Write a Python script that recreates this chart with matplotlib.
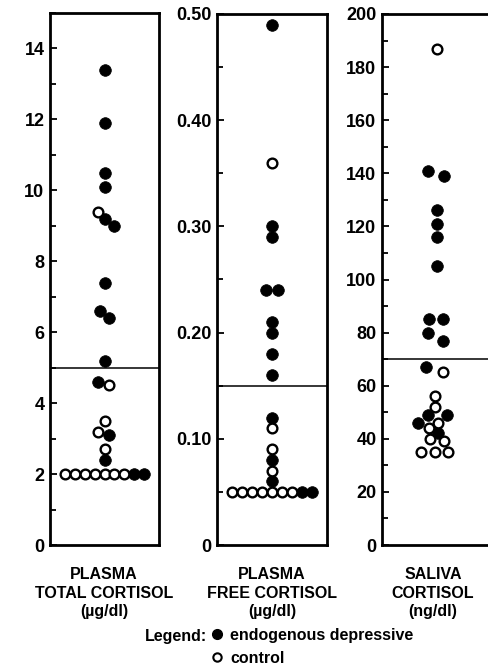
import matplotlib
matplotlib.use("Agg")
import matplotlib.pyplot as plt
from matplotlib.lines import Line2D
from matplotlib.ticker import MultipleLocator, FuncFormatter

plt.rcParams['font.family'] = ['Liberation Sans', 'DejaVu Sans']

# ---------------- data ----------------
# Plasma total cortisol (ug/dl)
total_dep = [13.4, 11.9, 10.5, 10.1, 9.2, 9.0, 7.4, 6.6, 6.4, 5.2, 4.6, 3.1, 2.4, 2.0, 2.0]
total_ctl = [9.4, 4.5, 3.5, 3.2, 2.7, 2.0, 2.0, 2.0, 2.0, 2.0, 2.0, 2.0]
total_cut = 5.0

# Plasma free cortisol (ug/dl)
free_dep = [0.49, 0.30, 0.29, 0.24, 0.24, 0.21, 0.20, 0.18, 0.16, 0.12, 0.08, 0.06, 0.05, 0.05]
free_ctl = [0.36, 0.11, 0.09, 0.07, 0.05, 0.05, 0.05, 0.05, 0.05, 0.05, 0.05]
free_cut = 0.15

# Saliva cortisol (ng/dl)
saliva_dep = [141, 139, 126, 121, 116, 105, 85, 85, 80, 77, 67, 49, 49, 46, 42]
saliva_ctl = [187, 65, 56, 52, 46, 44, 40, 39, 35, 35, 35]
saliva_cut = 70

panel_titles = ["PLASMA\nTOTAL CORTISOL\n(\u00b5g/dl)",
                "PLASMA\nFREE CORTISOL\n(\u00b5g/dl)",
                "SALIVA\nCORTISOL\n(ng/dl)"]
legend_labels = ["endogenous depressive", "control"]

# ---------------- layout (horizontal dot offsets, in marker widths) ----------------
total_dep_dx = [0, 0, 0, 0, 0, 1.0, 0, -0.5, 0.5, 0, -0.7, 0.5, 0, 3, 4]
total_ctl_dx = [-0.7, 0.5, 0, -0.7, 0, -4, -3, -2, -1, 0, 1, 2]
free_dep_dx = [0, 0, 0, -0.6, 0.6, 0, 0, 0, 0, 0, 0, 0, 3, 4]
free_ctl_dx = [0, 0, 0, 0, -4, -3, -2, -1, 0, 1, 2]
saliva_dep_dx = [-0.9, 0.7, 0, 0, 0, 0, -0.8, 0.6, -0.9, 0.6, -1.1, -0.9, 1.0, -1.9, 0.1]
saliva_ctl_dx = [0, 0.6, -0.2, -0.2, 0.1, -0.8, -0.7, 0.7, -1.6, -0.2, 1.1]

W, H = 488, 670
fig = plt.figure(figsize=(W / 100, H / 100), dpi=100)

def px_axes(left, top, right, bottom):
    return fig.add_axes([left / W, 1 - bottom / H, (right - left) / W, (bottom - top) / H])

panels = [
    dict(box=(50, 13, 159, 545), dep=total_dep, ddx=total_dep_dx, ctl=total_ctl, cdx=total_ctl_dx,
         cut=total_cut, ymax=15, major=2, minor=1, fmt=lambda v, p: f"{v:.0f}"),
    dict(box=(217, 14, 327, 545), dep=free_dep, ddx=free_dep_dx, ctl=free_ctl, cdx=free_ctl_dx,
         cut=free_cut, ymax=0.5, major=0.1, minor=0.05,
         fmt=lambda v, p: "0" if abs(v) < 1e-9 else f"{v:.2f}"),
    dict(box=(382, 14, 492, 545), dep=saliva_dep, ddx=saliva_dep_dx, ctl=saliva_ctl, cdx=saliva_ctl_dx,
         cut=saliva_cut, ymax=200, major=20, minor=10, fmt=lambda v, p: f"{v:.0f}"),
]

title_x = [104, 272, 433]

for i, p in enumerate(panels):
    ax = px_axes(*p['box'])
    ax.set_xlim(-5.5, 5.5)
    ax.set_ylim(0, p['ymax'])
    ax.axhline(p['cut'], color='black', lw=1.1, zorder=1)
    ax.plot(p['ddx'], p['dep'], linestyle='none', marker='o', ms=8.4,
            mfc='black', mec='black', mew=0.5, zorder=3, clip_on=False)
    ax.plot(p['cdx'], p['ctl'], linestyle='none', marker='o', ms=7.0,
            mfc='white', mec='black', mew=1.7, zorder=4, clip_on=False)
    for s in ax.spines.values():
        s.set_linewidth(2.0)
    ax.set_xticks([])
    ax.yaxis.set_major_locator(MultipleLocator(p['major']))
    ax.yaxis.set_minor_locator(MultipleLocator(p['minor']))
    ax.yaxis.set_major_formatter(FuncFormatter(p['fmt']))
    ax.tick_params(axis='y', which='both', direction='in', left=True, right=False,
                   width=1.3, labelsize=13, pad=4)
    ax.tick_params(axis='y', which='major', length=5)
    ax.tick_params(axis='y', which='minor', length=4.5)
    for lab in ax.get_yticklabels():
        lab.set_fontweight('bold')
    fig.text(title_x[i] / W, 1 - 593 / H, panel_titles[i], ha='center', va='center',
             multialignment='center', fontsize=11.5, fontweight='bold', linespacing=1.3)

fig.text(207 / W, 1 - 637 / H, "Legend:", ha='right', va='center', fontsize=11.5, fontweight='bold')
handles = [Line2D([], [], linestyle='none', marker='o', ms=7, mfc='black', mec='black'),
           Line2D([], [], linestyle='none', marker='o', ms=6, mfc='white', mec='black', mew=1.5)]
fig.legend(handles, legend_labels, loc='upper left', bbox_to_anchor=(211 / W, 1 - 628 / H),
           frameon=False, handlelength=0.7, handletextpad=0.5, labelspacing=0.5,
           borderpad=0, borderaxespad=0, prop=dict(size=11.5, weight='bold'))

fig.savefig("out.png", dpi=100, facecolor='white')
